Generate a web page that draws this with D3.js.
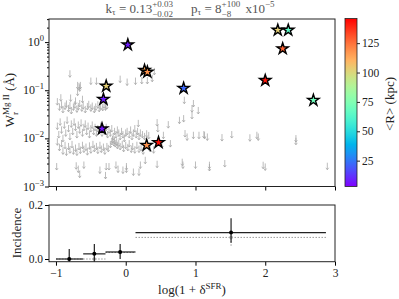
<!DOCTYPE html>
<html>
<head>
<meta charset="utf-8">
<script src="https://cdn.jsdelivr.net/npm/d3@7"></script>
<style>
  body { margin: 0; background: #fff; }
  text { font-family: "Liberation Serif", "DejaVu Serif", serif; white-space: pre; }
</style>
</head>
<body>
<svg id="chart" width="399" height="299"></svg>
<script>
// absorbers: x = log(1+delta_SFR), W = rest equivalent width (A), R = mean distance (kpc)
const starX = [0.03, -0.28, 0.27, 0.31, 0.83, -0.32, -0.34, 0.30, 0.47, 2.18, 2.33, 2.25, 2.00, 2.69];
const starW = [0.88, 0.122, 0.259, 0.239, 0.11, 0.065, 0.0158, 0.0072, 0.0082, 1.77, 1.77, 0.73, 0.16, 0.062];
const starR = [8, 103, 112, 118, 22, 8, 6, 118, 143, 103, 65, 128, 142, 70];

// non-detections (upper limits) [x, W]
const limits = [
  [-0.80, 0.22], [-0.69, 0.126], [-0.67, 0.12], [-0.65, 0.126], [-0.66, 0.112], [-0.69, 0.091], [-0.79, 0.069],
  [-0.50, 0.155], [-0.42, 0.155], [-0.08, 0.17], [0.02, 0.148], [0.14, 0.155], [0.23, 0.16], [0.31, 0.16],
  [0.38, 0.177], [0.41, 0.246],
  [-0.98, 0.058], [-0.95, 0.045], [-0.92, 0.05], [-0.90, 0.04], [-0.87, 0.047], [-0.85, 0.052], [-0.82, 0.042],
  [-0.80, 0.048], [-0.78, 0.038], [-0.75, 0.045], [-0.73, 0.05], [-0.70, 0.041], [-0.68, 0.046], [-0.66, 0.053],
  [-0.63, 0.043], [-0.61, 0.048], [-0.58, 0.04], [-0.55, 0.046], [-0.53, 0.051], [-0.50, 0.043], [-0.48, 0.047],
  [-0.45, 0.04], [-0.43, 0.045], [-0.40, 0.05], [-0.38, 0.042], [-0.36, 0.047], [-0.33, 0.044], [-0.31, 0.05],
  [-0.29, 0.045], [-0.27, 0.048], [-0.93, 0.07], [-0.62, 0.065], [-0.72, 0.06],
  [-0.98, 0.018], [-0.96, 0.012], [-0.94, 0.022], [-0.92, 0.015], [-0.90, 0.010], [-0.88, 0.019], [-0.86, 0.013],
  [-0.84, 0.024], [-0.82, 0.016], [-0.80, 0.011], [-0.78, 0.02], [-0.76, 0.014], [-0.74, 0.022], [-0.72, 0.017],
  [-0.70, 0.012], [-0.68, 0.019], [-0.66, 0.015], [-0.64, 0.021], [-0.62, 0.013], [-0.60, 0.017], [-0.58, 0.02],
  [-0.56, 0.014], [-0.54, 0.018], [-0.52, 0.012], [-0.50, 0.016], [-0.48, 0.019], [-0.46, 0.014], [-0.44, 0.017],
  [-0.42, 0.013], [-0.40, 0.016], [-0.38, 0.015], [-0.36, 0.018], [-0.34, 0.013], [-0.32, 0.016], [-0.30, 0.014],
  [-0.28, 0.017], [-0.26, 0.012], [-0.24, 0.015], [-0.22, 0.013], [-0.20, 0.016], [-0.18, 0.011], [-0.16, 0.014],
  [-0.14, 0.012], [-0.12, 0.015], [-0.10, 0.013], [-0.08, 0.011], [-0.06, 0.014], [-0.04, 0.012], [-0.02, 0.010],
  [0.00, 0.013], [0.02, 0.014], [0.05, 0.012], [0.07, 0.015], [0.09, 0.011], [0.11, 0.013], [0.13, 0.016],
  [0.15, 0.012], [0.17, 0.014], [0.19, 0.011], [0.21, 0.013], [0.24, 0.012], [0.27, 0.011], [0.30, 0.0125],
  [0.33, 0.0115], [0.18, 0.0205], [0.45, 0.0213], [0.46, 0.016], [0.61, 0.0193], [0.54, 0.0116], [0.77, 0.0238],
  [0.83, 0.0258], [0.84, 0.062], [0.95, 0.0415], [0.97, 0.053], [1.04, 0.038], [0.95, 0.030], [0.85, 0.0126],
  [0.88, 0.0107], [0.97, 0.0116], [1.05, 0.0116], [1.12, 0.012], [0.64, 0.0078],
  [1.13, 0.0116], [1.17, 0.0107], [1.38, 0.0104], [1.52, 0.012], [1.78, 0.0103], [1.88, 0.0116], [1.90, 0.0107],
  [2.44, 0.0099], [2.44, 0.0087], [1.20, 0.00277], [1.20, 0.00248], [1.42, 0.003], [1.97, 0.00277], [2.00, 0.00255],
  [2.89, 0.00264],
  [-0.98, 0.0085], [-0.95, 0.0065], [-0.92, 0.0078], [-0.90, 0.0055], [-0.87, 0.0072], [-0.85, 0.0052], [-0.82, 0.0068],
  [-0.80, 0.0058], [-0.77, 0.0075], [-0.75, 0.0055], [-0.72, 0.0063], [-0.70, 0.0052], [-0.67, 0.0068], [-0.65, 0.0057],
  [-0.62, 0.0072], [-0.60, 0.006], [-0.57, 0.0066], [-0.55, 0.0053], [-0.52, 0.007], [-0.50, 0.0058], [-0.47, 0.0075],
  [-0.45, 0.0062], [-0.42, 0.0068], [-0.40, 0.0057], [-0.37, 0.0072], [-0.35, 0.006], [-0.32, 0.0066], [-0.30, 0.0055],
  [-0.27, 0.0068], [-0.25, 0.0062], [-0.22, 0.0075], [-0.20, 0.0087], [-0.19, 0.0095], [-0.17, 0.0082], [-0.16, 0.009],
  [-0.15, 0.0078], [-0.13, 0.0085], [-0.12, 0.0072], [-0.10, 0.008], [-0.08, 0.0068], [-0.05, 0.0075], [-0.03, 0.0062],
  [0.00, 0.0072], [0.03, 0.0065], [0.05, 0.0078], [0.08, 0.006], [0.10, 0.0068], [0.13, 0.0058], [0.16, 0.0072],
  [0.19, 0.006], [0.22, 0.0065], [0.25, 0.0055], [0.35, 0.0062], [0.40, 0.0058], [0.52, 0.0075],
  [-0.99, 0.0026], [-0.68, 0.0023], [-0.66, 0.0018], [-0.60, 0.0028], [-0.71, 0.0027], [-0.37, 0.0022], [-0.28, 0.0026],
  [-0.24, 0.0026], [-0.29, 0.0017], [-0.14, 0.0028], [-0.11, 0.0023], [-0.04, 0.0022], [0.01, 0.0026], [0.01, 0.0023],
  [0.11, 0.0020], [0.19, 0.0020], [0.21, 0.0028], [0.28, 0.0035], [0.45, 0.0029], [0.81, 0.0032], [0.82, 0.0028],
  [1.00, 0.0028]
];

// incidence per bin
const binLo = [-1.0, -0.61, -0.29, 0.14];
const binHi = [-0.61, -0.29, 0.14, 2.87];
const binMid = [-0.81, -0.45, -0.08, 1.51];
const incObs = [0.0, 0.019, 0.026, 0.098];
const incObsLo = [-0.01, -0.01, 0.0, 0.06];
const incObsHi = [0.037, 0.056, 0.056, 0.151];
const incRnd = [0.0, 0.0, 0.024, 0.08];
const incRndLo = [0.0, 0.0, 0.024, 0.049];
const incRndHi = [0.0, 0.0, 0.024, 0.08];

const xTicks = [-1, 0, 1, 2, 3];
const wTicks = [1, 0.1, 0.01, 0.001];
const wExp = ["0", "\u22121", "\u22122", "\u22123"];
const incTicks = [0.0, 0.2];
const rTicks = [25, 50, 75, 100, 125];

const svg = d3.select("#chart");
const ink = "#222";

// matplotlib "rainbow"
function rainbow(t) {
  const c = (v) => Math.round(255 * Math.max(0, Math.min(1, v)));
  return `rgb(${c(Math.abs(2 * t - 0.5))},${c(Math.sin(Math.PI * t))},${c(Math.cos(Math.PI * t / 2))})`;
}

// text made of pieces, with stacked super/subscripts
function mathText(parent, x, y, pieces, anchor, rotate, color) {
  const outer = parent.append("g").attr("transform", `translate(${x},${y})` + (rotate ? " rotate(-90)" : ""));
  const g = outer.append("g");
  let cx = 0;
  pieces.forEach((p) => {
    if (p.t !== undefined) {
      const t = g.append("text").attr("x", cx).attr("y", p.dy || 0)
        .style("font-size", p.size + "px").attr("fill", color).text(p.t);
      cx += t.node().getComputedTextLength();
    } else {
      let w = 0;
      if (p.sup) {
        const t = g.append("text").attr("x", cx).attr("y", p.supDy)
          .style("font-size", p.size + "px").attr("fill", color).text(p.sup);
        w = Math.max(w, t.node().getComputedTextLength());
      }
      if (p.sub) {
        const t = g.append("text").attr("x", cx).attr("y", p.subDy)
          .style("font-size", p.size + "px").attr("fill", color).text(p.sub);
        w = Math.max(w, t.node().getComputedTextLength());
      }
      cx += w + (p.gap || 0);
    }
  });
  const shift = anchor === "middle" ? -cx / 2 : anchor === "end" ? -cx : 0;
  g.attr("transform", `translate(${shift},0)`);
}

// ---------- top panel ----------
const x = d3.scaleLinear().domain([-1.1, 3]).range([49, 335]);
const y = d3.scaleLog().domain([0.001, 3.02]).range([186.5, 19]);
const color = d3.scaleLinear().domain([3, 146]).range([0, 1]);

const minor = [];
[0.001, 0.01, 0.1, 1].forEach((d) => d3.range(2, 10).forEach((k) => { if (d * k < 3.02) minor.push(d * k); }));

svg.append("g").attr("transform", "translate(49,0)")
  .call(d3.axisLeft(y).tickValues(minor).tickSize(2).tickFormat(""))
  .call((g) => g.select(".domain").remove());
svg.append("g").attr("transform", "translate(49,0)")
  .call(d3.axisLeft(y).tickValues(wTicks).tickSize(4).tickFormat(""))
  .call((g) => g.select(".domain").remove());
svg.append("g").attr("transform", "translate(0,186.5)")
  .call(d3.axisBottom(x).tickValues(xTicks).tickSize(4).tickFormat(""))
  .call((g) => g.select(".domain").remove());

wTicks.forEach((d, i) => {
  mathText(svg, 44, y(d) + 4, [
    { t: "10", size: 12 },
    { sup: wExp[i], supDy: -5, size: 8.5 }
  ], "end", false, ink);
});

// upper limit arrows
svg.append("g").selectAll("path").data(limits).join("path")
  .attr("d", (d) => {
    const cx = x(d[0]), cy = y(d[1]);
    return `M${cx},${cy - 3.5}V${cy + 3.5}M${cx - 1.4},${cy + 1.6}L${cx},${cy + 3.5}L${cx + 1.4},${cy + 1.6}`;
  })
  .attr("fill", "none").attr("stroke", "#a6a6a6").attr("stroke-width", 0.75);

// detections
svg.append("g").selectAll("path").data(starX).join("path")
  .attr("transform", (d, i) => `translate(${x(d)},${y(starW[i])})`)
  .attr("d", d3.symbol(d3.symbolStar, 40))
  .attr("fill", (d, i) => rainbow(color(starR[i])))
  .attr("stroke", "#000").attr("stroke-width", 1.4);

svg.append("rect").attr("x", 49).attr("y", 19).attr("width", 286).attr("height", 167.5)
  .attr("fill", "none").attr("stroke", ink).attr("stroke-width", 1);

// title
mathText(svg, 190, 12.5, [
  { t: "k", size: 13 }, { t: "\u03c4", size: 9, dy: 2.5 }, { t: " = 0.13", size: 13 },
  { sup: "+0.03", supDy: -5.5, sub: "\u22120.02", subDy: 4, size: 9, gap: 18 },
  { t: "p", size: 13 }, { t: "\u03c4", size: 9, dy: 2.5 }, { t: " = 8", size: 13 },
  { sup: "+100", supDy: -5.5, sub: "\u22128", subDy: 4, size: 9, gap: 2 },
  { t: " x10", size: 13 }, { sup: "\u22125", supDy: -5.5, size: 9 }
], "middle", false, "#555");

// y label
mathText(svg, 14, 100, [
  { t: "W", size: 13 },
  { sup: "Mg II", supDy: -5.5, sub: "r", subDy: 3.5, size: 9 },
  { t: " (\u00c5)", size: 13 }
], "middle", true, ink);

// ---------- colorbar ----------
const cb = d3.scaleLinear().domain([3, 146]).range([186.5, 18.5]);
const grad = svg.append("defs").append("linearGradient").attr("id", "rb")
  .attr("x1", "0%").attr("x2", "0%").attr("y1", "100%").attr("y2", "0%");
grad.selectAll("stop").data(d3.range(0, 1.001, 0.05)).join("stop")
  .attr("offset", (d) => `${d * 100}%`).attr("stop-color", (d) => rainbow(d));
svg.append("rect").attr("x", 345).attr("y", 18.5).attr("width", 12).attr("height", 168)
  .attr("fill", "url(#rb)").attr("stroke", ink).attr("stroke-width", 0.8);
svg.append("g").attr("transform", "translate(357,0)")
  .call(d3.axisRight(cb).tickValues(rTicks).tickSize(3).tickPadding(2).tickFormat(d3.format("d")))
  .call((g) => g.select(".domain").remove())
  .call((g) => g.selectAll("text").style("font-size", "11.5px").attr("fill", ink))
  .call((g) => g.selectAll("line").attr("stroke", ink));
mathText(svg, 394, 104, [{ t: "<R> (kpc)", size: 13 }], "middle", true, ink);

// ---------- bottom panel ----------
const yb = d3.scaleLinear().domain([-0.01, 0.2]).range([261.7, 205]);

svg.append("g").attr("transform", "translate(49,0)")
  .call(d3.axisLeft(yb).tickValues(incTicks).tickSize(4).tickPadding(2).tickFormat(d3.format(".1f")))
  .call((g) => g.select(".domain").remove())
  .call((g) => g.selectAll("text").style("font-size", "11.5px").attr("fill", ink));
svg.append("g").attr("transform", "translate(0,261.7)")
  .call(d3.axisBottom(x).tickValues(xTicks).tickSize(4).tickPadding(3)
    .tickFormat((d) => (d < 0 ? "\u2212" + Math.abs(d) : d)))
  .call((g) => g.select(".domain").remove())
  .call((g) => g.selectAll("text").style("font-size", "11.5px").attr("fill", ink));

const bins = d3.range(binMid.length);
const rnd = svg.append("g");
rnd.selectAll(".h").data(bins).join("line")
  .attr("x1", (i) => x(binLo[i])).attr("x2", (i) => x(binHi[i]))
  .attr("y1", (i) => yb(incRnd[i])).attr("y2", (i) => yb(incRnd[i]))
  .attr("stroke", "#999").attr("stroke-width", 1).attr("stroke-dasharray", "1.5,1.5");
rnd.selectAll(".v").data(bins).join("line")
  .attr("x1", (i) => x(binMid[i])).attr("x2", (i) => x(binMid[i]))
  .attr("y1", (i) => yb(incRndLo[i])).attr("y2", (i) => yb(incRndHi[i]))
  .attr("stroke", "#999").attr("stroke-width", 1).attr("stroke-dasharray", "1.5,1.5");
rnd.selectAll("circle").data(bins).join("circle")
  .attr("cx", (i) => x(binMid[i])).attr("cy", (i) => yb(incRnd[i])).attr("r", 1.8)
  .attr("fill", "#aaa");

const obs = svg.append("g");
obs.selectAll(".h").data(bins).join("line")
  .attr("x1", (i) => x(binLo[i])).attr("x2", (i) => x(binHi[i]))
  .attr("y1", (i) => yb(incObs[i])).attr("y2", (i) => yb(incObs[i]))
  .attr("stroke", ink).attr("stroke-width", 1.2);
obs.selectAll(".v").data(bins).join("line")
  .attr("x1", (i) => x(binMid[i])).attr("x2", (i) => x(binMid[i]))
  .attr("y1", (i) => yb(incObsLo[i])).attr("y2", (i) => yb(incObsHi[i]))
  .attr("stroke", ink).attr("stroke-width", 1.2);
obs.selectAll("circle").data(bins).join("circle")
  .attr("cx", (i) => x(binMid[i])).attr("cy", (i) => yb(incObs[i])).attr("r", 2)
  .attr("fill", "#000");

svg.append("rect").attr("x", 49).attr("y", 205).attr("width", 286).attr("height", 56.7)
  .attr("fill", "none").attr("stroke", ink).attr("stroke-width", 1);

mathText(svg, 21, 233, [{ t: "Incidence", size: 13 }], "middle", true, ink);
mathText(svg, 192, 294, [
  { t: "log(1 + \u03b4", size: 13 }, { sup: "SFR", supDy: -5.5, size: 9 }, { t: ")", size: 13 }
], "middle", false, ink);
</script>
</body>
</html>
